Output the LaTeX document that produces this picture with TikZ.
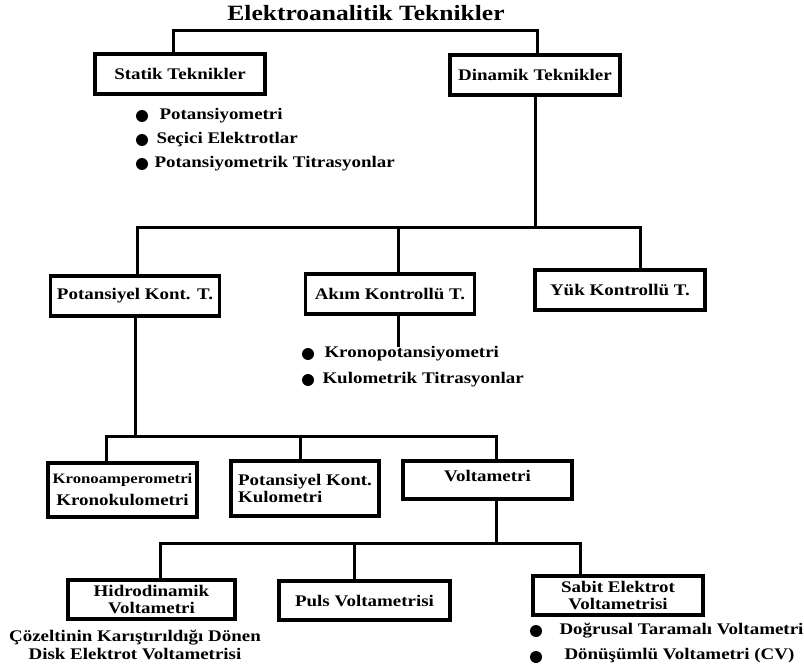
\documentclass[tikz,border=0pt]{standalone}
\usepackage{fontspec}
\setmainfont{Liberation Serif}[FakeStretch=1.17]
\begin{document}
\begin{tikzpicture}[x=1pt,y=-1pt,line width=3pt,
    kutu/.style={draw,line width=3.2pt,minimum height=40pt,align=center,inner sep=2pt,
      font=\bfseries\fontsize{16.2}{17}\selectfont},
    yazi/.style={anchor=west,inner sep=0pt,font=\bfseries\fontsize{16.2}{18}\selectfont},
    nokta/.style={circle,fill,inner sep=0pt,minimum size=12pt}]
  \useasboundingbox (0,0) rectangle (804,666);

  \node[font=\bfseries\fontsize{21.8}{24}\selectfont] (baslik) at (366,13) {Elektroanalitik Teknikler};

  \begin{scope}[every node/.style={kutu}]
    \node[minimum width=170pt] (statik)  at (180,74)  {Statik Teknikler};
    \node[minimum width=170pt] (dinamik) at (535,75)  {Dinamik Teknikler};
    \node[minimum width=169pt] (potkont) at (135,296) {Potansiyel Kont. T.};
    \node[minimum width=169pt] (akim)    at (390,294) {Akım Kontrollü T.};
    \node[minimum width=170pt] (yuk)     at (620,290) {Yük Kontrollü T.};
    \node[minimum width=149pt,minimum height=54pt] (krono) at (122.5,490)
      {{\fontsize{14.3}{15}\selectfont Kronoamperometri}\\[5pt]Kronokulometri};
    \node[minimum width=148pt,minimum height=55pt,align=left] (pkk) at (305,488.5)
      {Potansiyel Kont.\\Kulometri};
    \node[minimum width=169pt,minimum height=38pt,text depth=9pt] (volt) at (487.5,480) {Voltametri};
    \node[minimum width=167pt,minimum height=39pt] (hidro) at (151.5,599.5) {Hidrodinamik\\Voltametri};
    \node[minimum width=171pt,minimum height=39pt] (puls)  at (364.5,600.5) {Puls Voltametrisi};
    \node[minimum width=170pt,minimum height=39pt] (sabit) at (618,595.5) {Sabit Elektrot\\Voltametrisi};
  \end{scope}

  \begin{scope}[every node/.style={nokta}]
    \node (n1) at (142,116) {};
    \node (n2) at (142,140) {};
    \node (n3) at (142,164) {};
    \node (n4) at (308,354) {};
    \node (n5) at (308,380) {};
    \node (n6) at (536,631) {};
    \node (n7) at (536,657) {};
  \end{scope}

  \begin{scope}[every node/.style={yazi}]
    \node (t1) at (158,116) {Potansiyometri};
    \node (t2) at (155,140) {Seçici Elektrotlar};
    \node (t3) at (153,164) {Potansiyometrik Titrasyonlar};
    \node (t4) at (323,354) {Kronopotansiyometri};
    \node (t5) at (321,380) {Kulometrik Titrasyonlar};
    \node (t6) at (558,631) {Doğrusal Taramalı Voltametri};
    \node (t7) at (563,656) {Dönüşümlü Voltametri (CV)};
    \node[anchor=center,align=center] (disk) at (135,645)
      {Çözeltinin Karıştırıldığı Dönen\\Disk Elektrot Voltametrisi};
  \end{scope}

  \coordinate (a1) at (173,31);
  \coordinate (a2) at (537,31);
  \coordinate (b1) at (137,228);
  \coordinate (b2) at (640,228);
  \coordinate (b3) at (398,228);
  \coordinate (c1) at (106,436);
  \coordinate (c2) at (496,436);
  \coordinate (c3) at (300,436);
  \coordinate (d1) at (160,543);
  \coordinate (d2) at (580,543);
  \coordinate (d3) at (354,543);

  \draw (statik.north -| a1) -- (a1) -- (a2) -- (dinamik.north -| a2);
  \draw (dinamik.south) -- (dinamik.south |- b1);
  \draw (potkont.north -| b1) -- (b1) -- (b2) -- (yuk.north -| b2);
  \draw (akim.north -| b3) -- (b3);
  \draw (akim.south -| b3) -- ++(0,31);
  \draw (potkont.south) -- (potkont.south |- c1);
  \draw (krono.north -| c1) -- (c1) -- (c2) -- (volt.north -| c2);
  \draw (pkk.north -| c3) -- (c3);
  \draw (volt.south -| c2) -- (d1 -| c2);
  \draw (hidro.north -| d1) -- (d1) -- (d2) -- (sabit.north -| d2);
  \draw (puls.north -| d3) -- (d3);

\end{tikzpicture}
\end{document}
